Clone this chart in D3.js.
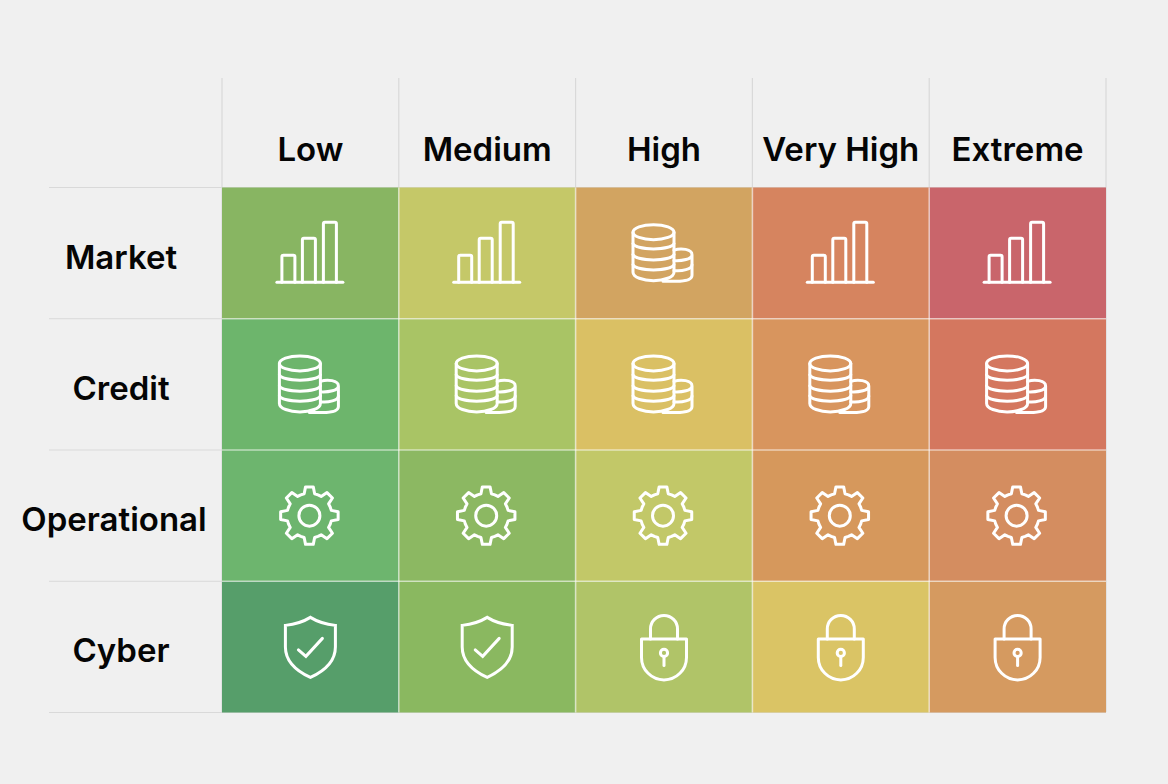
<!DOCTYPE html>
<html><head><meta charset="utf-8">
<script src="https://cdn.jsdelivr.net/npm/d3@7/dist/d3.min.js"></script>
<style>html,body{margin:0;padding:0;background:#f0f0f0}svg{display:block}text{font-family:Inter,"Liberation Sans",sans-serif;font-weight:600;fill:#050505}</style>
</head><body><svg id="c" width="1168" height="784"></svg>
<script>
const levels = ["Low","Medium","High","Very High","Extreme"];
const risks = ["Market","Credit","Operational","Cyber"];
const iconRows = [
  ["bars","bars","coins","bars","bars"],
  ["coins","coins","coins","coins","coins"],
  ["gear","gear","gear","gear","gear"],
  ["shield","shield","lock","lock","lock"]
];
const colorRows = [
  ["#88b562","#c5c868","#d2a461","#d6845f","#c9656b"],
  ["#6db56c","#a9c465","#dac064","#d8955e","#d4775f"],
  ["#6db56e","#8cb862","#c2c868","#d6985c","#d48d60"],
  ["#569e6a","#8ab860","#b0c468","#dac465","#d59a60"]
];
const svg = d3.select("#c");
const x = d3.scaleBand().domain(levels).range([222,1106]);
const y = d3.scaleBand().domain(risks).range([187.5,712.5]);
const gridTop = 78, headerBaseline = 161, left = 49, rowLabelX = 121;

svg.append("rect").attr("width",1168).attr("height",784).attr("fill","#f0f0f0");

// grid lines
const grid = svg.append("g").attr("stroke","#d9d9d9").attr("stroke-width",1.2);
[...levels.map(d=>x(d)),1106].forEach(v=>grid.append("line").attr("x1",v).attr("x2",v).attr("y1",gridTop).attr("y2",712));
[...risks.map(d=>y(d)),712.5].forEach(v=>grid.append("line").attr("x1",left).attr("x2",1106).attr("y1",v).attr("y2",v));

// cells
risks.forEach((r,i)=>levels.forEach((l,j)=>{
  svg.append("rect").attr("x",x(l)).attr("y",y(r)).attr("width",x.bandwidth()).attr("height",y.bandwidth())
    .attr("fill",colorRows[i][j]);
}));
// cell separators
const sep = svg.append("g").attr("stroke","#fff").attr("stroke-opacity",.55).attr("stroke-width",1.6);
levels.slice(1).forEach(l=>sep.append("line").attr("x1",x(l)).attr("x2",x(l)).attr("y1",187.5).attr("y2",712.5));
risks.slice(1).forEach(r=>sep.append("line").attr("x1",222).attr("x2",1106).attr("y1",y(r)).attr("y2",y(r)));

// icon glyphs, drawn round the cell centre
const gearPath = (()=>{
  const p=[],n=8,ro=29,ri=22.5;
  for(let k=0;k<n;k++){
    const a=k*2*Math.PI/n-Math.PI/2, w=2*Math.PI/n;
    [[ri,-.5*w],[ri,-.3*w],[ro,-.17*w],[ro,.17*w],[ri,.3*w]].forEach(([r,t])=>p.push([r*Math.cos(a+t),r*Math.sin(a+t)]));
  }
  return "M"+p.map(q=>q.map(v=>v.toFixed(2)).join(",")).join("L")+"Z";
})();
const icons = {
  bars(g){
    g.append("path").attr("d","M-33.5,29H32.5");
    [[-28.5,-15.5,2],[-8,5,-15],[13,26,-31]].forEach(([a,b,t])=>
      g.append("path").attr("d",`M${a},29V${t+1.5}q0,-1.5 1.5,-1.5H${b-1.5}q1.5,0 1.5,1.5V29`));
  },
  coins(g){
    g.append("path").attr("d","M10,-3C17,-5.5 28,-4 28,1.5C28,6 18,8 10,7.5M28,1.5V22C28,27 20,28 12,28H-1");
    g.append("path").attr("d","M10,17.5C18,18.5 28,16 28,11.5");
    g.append("ellipse").attr("cx",-10.5).attr("cy",-21).attr("rx",20.5).attr("ry",7.5);
    g.append("path").attr("d","M-31,-21V19C-31,24 -21,27.5 -10.5,27.5C0,27.5 10,24 10,19V-21");
    [-8.5,2.5,12.5].forEach(v=>g.append("path").attr("d",`M-31,${v-1}C-27,${v+6} 6,${v+6} 10,${v-1}`));
  },
  gear(g){
    g.attr("transform",g.attr("transform")+" translate(-1,0)");
    g.append("path").attr("d",gearPath).attr("stroke-linejoin","round");
    g.append("circle").attr("r",10.5);
  },
  shield(g){
    g.append("path").attr("d","M0,-29.5C8,-24.5 16,-22.5 25,-21.5V0C25,14 14,24 0,30.5C-14,24 -25,14 -25,0V-21.5C-16,-22.5 -8,-24.5 0,-29.5Z");
    g.append("path").attr("d","M-12,3L-4.5,9.5L12,-8.5");
  },
  lock(g){
    g.append("path").attr("d","M-13.5,-8V-18A13.5,13.5 0 0 1 13.5,-18V-8");
    g.append("path").attr("d","M-22.5,-8H22.5V10.5A22.5,22.5 0 0 1 -22.5,10.5Z").attr("stroke-linejoin","round");
    g.append("circle").attr("cy",6).attr("r",3.6);
    g.append("path").attr("d","M0,10V18.5");
  }
};
risks.forEach((r,i)=>levels.forEach((l,j)=>{
  const g = svg.append("g")
    .attr("transform",`translate(${x(l)+x.bandwidth()/2},${y(r)+y.bandwidth()/2})`)
    .attr("fill","none").attr("stroke","#fff").attr("stroke-width",3).attr("stroke-linecap","round");
  icons[iconRows[i][j]](g);
}));

// labels
svg.append("g").selectAll("text").data(levels).join("text")
  .attr("x",d=>x(d)+x.bandwidth()/2).attr("y",headerBaseline)
  .attr("text-anchor","middle").attr("font-size",33).text(d=>d);
svg.append("g").selectAll("text").data(risks).join("text")
  .attr("x",d=>d==="Operational"?114:rowLabelX).attr("y",d=>y(d)+y.bandwidth()/2+15.5)
  .attr("text-anchor","middle").attr("font-size",33).text(d=>d);
</script></body></html>
